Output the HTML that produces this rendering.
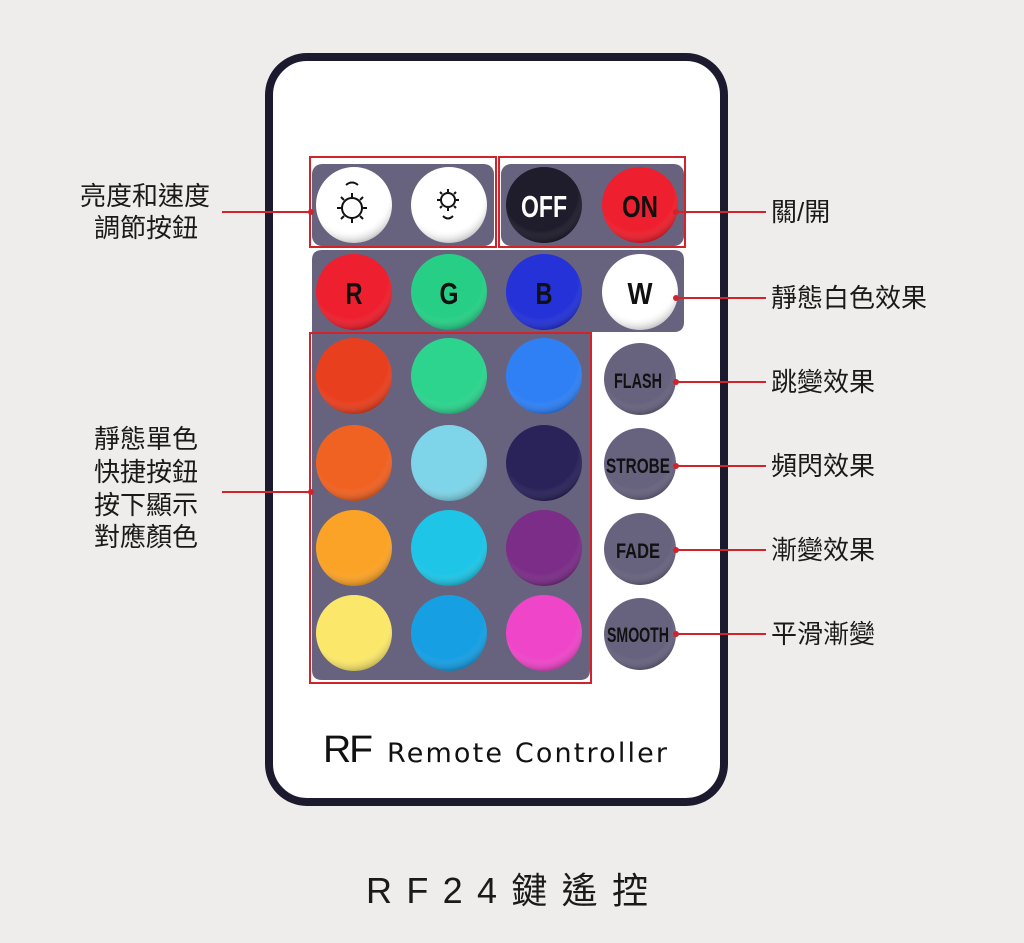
<!DOCTYPE html>
<html><head><meta charset="utf-8"><style>
html,body{margin:0;padding:0;background:#efedeb;}
svg{display:block;}
.cj{font-family:"Liberation Sans","Noto Sans CJK TC",sans-serif;fill:#1a1a1a;}
.bt{font-family:"Liberation Sans",sans-serif;text-anchor:middle;font-weight:bold;}
</style></head><body>
<svg width="1024" height="943" viewBox="0 0 1024 943" xmlns="http://www.w3.org/2000/svg">
<defs>
<radialGradient id="sh" cx="0.45" cy="0.35" r="0.65">
<stop offset="0.75" stop-color="#fff" stop-opacity="0"/>
<stop offset="1" stop-color="#000" stop-opacity="0.22"/>
</radialGradient>
</defs>
<rect width="1024" height="943" fill="#efedeb"/>
<rect x="269" y="57" width="455" height="745" rx="38" fill="#fff" stroke="#1c1a2e" stroke-width="8"/>
<g fill="#67637f">
<rect x="312" y="164" width="182" height="82" rx="10"/>
<rect x="501" y="164" width="183" height="82" rx="10"/>
<path d="M322 250 H674 Q684 250 684 260 V322 Q684 332 674 332 H590 V670 Q590 680 580 680 H322 Q312 680 312 670 V260 Q312 250 322 250 Z"/>
</g>
<g fill="none" stroke="#d2232a" stroke-width="2">
<rect x="310" y="157" width="186" height="90"/>
<rect x="499" y="157" width="186" height="90"/>
<rect x="310" y="333" width="281" height="350"/>
</g>
<g>
<circle cx="354" cy="205" r="38" fill="#fff"/>
<circle cx="449" cy="205" r="38" fill="#fff"/>
<circle cx="544" cy="205" r="38" fill="#1f1c2c"/>
<circle cx="640" cy="205" r="38" fill="#ee1f2e"/>
<circle cx="354" cy="292" r="38" fill="#ee1f2e"/>
<circle cx="449" cy="292" r="38" fill="#27cf86"/>
<circle cx="544" cy="292" r="38" fill="#2432d8"/>
<circle cx="640" cy="292" r="38" fill="#fff"/>
<circle cx="354" cy="376" r="38" fill="#e8401f"/>
<circle cx="449" cy="376" r="38" fill="#2dd48e"/>
<circle cx="544" cy="376" r="38" fill="#2f80f5"/>
<circle cx="354" cy="463" r="38" fill="#f06222"/>
<circle cx="449" cy="463" r="38" fill="#7ed4e8"/>
<circle cx="544" cy="463" r="38" fill="#29235a"/>
<circle cx="354" cy="548" r="38" fill="#fba326"/>
<circle cx="449" cy="548" r="38" fill="#1ec5e6"/>
<circle cx="544" cy="548" r="38" fill="#7b2d87"/>
<circle cx="354" cy="633" r="38" fill="#fbe86a"/>
<circle cx="449" cy="633" r="38" fill="#179fe3"/>
<circle cx="544" cy="633" r="38" fill="#ef46c9"/>
<circle cx="640" cy="379" r="36" fill="#67637f"/>
<circle cx="640" cy="464" r="36" fill="#67637f"/>
<circle cx="640" cy="549" r="36" fill="#67637f"/>
<circle cx="640" cy="634" r="36" fill="#67637f"/>
</g>
<g fill="url(#sh)">
<circle cx="354" cy="205" r="38"/><circle cx="449" cy="205" r="38"/><circle cx="544" cy="205" r="38"/><circle cx="640" cy="205" r="38"/>
<circle cx="354" cy="292" r="38"/><circle cx="449" cy="292" r="38"/><circle cx="544" cy="292" r="38"/><circle cx="640" cy="292" r="38"/>
<circle cx="354" cy="376" r="38"/><circle cx="449" cy="376" r="38"/><circle cx="544" cy="376" r="38"/>
<circle cx="354" cy="463" r="38"/><circle cx="449" cy="463" r="38"/><circle cx="544" cy="463" r="38"/>
<circle cx="354" cy="548" r="38"/><circle cx="449" cy="548" r="38"/><circle cx="544" cy="548" r="38"/>
<circle cx="354" cy="633" r="38"/><circle cx="449" cy="633" r="38"/><circle cx="544" cy="633" r="38"/>
<circle cx="640" cy="379" r="36"/><circle cx="640" cy="464" r="36"/><circle cx="640" cy="549" r="36"/><circle cx="640" cy="634" r="36"/>
</g>
<g stroke="#111" stroke-width="2" fill="none">
<circle cx="352" cy="208" r="10"/>
<path d="M352 193v5M352 218v5M337 208h5M362 208h5M341 197l3 3M363 197l-3 3M341 219l3-3M363 219l-3-3"/>
<path d="M346 185q6-5 12 0"/>
<circle cx="448" cy="200" r="7"/>
<path d="M448 189v3M448 208v3M437 200h3M456 200h3M440 192l2 2M456 192l-2 2M440 208l2-2M456 208l-2-2"/>
<path d="M443 216q5 5 10 0"/>
</g>
<g class="bt" font-size="31">
<text x="544" y="217" fill="#fff" textLength="46" lengthAdjust="spacingAndGlyphs">OFF</text>
<text x="640" y="217" fill="#111" textLength="36" lengthAdjust="spacingAndGlyphs">ON</text>
<text x="354" y="304" fill="#111" textLength="17" lengthAdjust="spacingAndGlyphs">R</text>
<text x="449" y="304" fill="#111" textLength="19" lengthAdjust="spacingAndGlyphs">G</text>
<text x="544" y="304" fill="#111" textLength="17" lengthAdjust="spacingAndGlyphs">B</text>
<text x="640" y="304" fill="#111" textLength="25" lengthAdjust="spacingAndGlyphs">W</text>
</g>
<g class="bt" font-size="21" fill="#111">
<text x="638" y="388" textLength="48" lengthAdjust="spacingAndGlyphs">FLASH</text>
<text x="638" y="473" textLength="64" lengthAdjust="spacingAndGlyphs">STROBE</text>
<text x="638" y="558" textLength="44" lengthAdjust="spacingAndGlyphs">FADE</text>
<text x="638" y="642" textLength="62" lengthAdjust="spacingAndGlyphs">SMOOTH</text>
</g>
<g stroke="#d2232a" stroke-width="2">
<line x1="222" y1="212" x2="311" y2="212"/>
<line x1="222" y1="492" x2="311" y2="492"/>
<line x1="676" y1="212" x2="766" y2="212"/>
<line x1="676" y1="298" x2="766" y2="298"/>
<line x1="676" y1="382" x2="766" y2="382"/>
<line x1="676" y1="466" x2="766" y2="466"/>
<line x1="676" y1="550" x2="766" y2="550"/>
<line x1="676" y1="634" x2="766" y2="634"/>
</g>
<g fill="#d2232a">
<circle cx="311" cy="212" r="3"/><circle cx="311" cy="492" r="3"/>
<circle cx="676" cy="212" r="3"/><circle cx="676" cy="298" r="3"/><circle cx="676" cy="382" r="3"/>
<circle cx="676" cy="466" r="3"/><circle cx="676" cy="550" r="3"/><circle cx="676" cy="634" r="3"/>
</g>
<g class="cj" font-size="26">
<text x="80" y="205">亮度和速度</text>
<text x="94" y="237">調節按鈕</text>
<text x="94" y="448">靜態單色</text>
<text x="94" y="481">快捷按鈕</text>
<text x="94" y="514">按下顯示</text>
<text x="94" y="546">對應顏色</text>
<text x="771" y="221">關/開</text>
<text x="771" y="307">靜態白色效果</text>
<text x="771" y="391">跳變效果</text>
<text x="771" y="475">頻閃效果</text>
<text x="771" y="559">漸變效果</text>
<text x="771" y="643">平滑漸變</text>
</g>
<text x="323" y="762" font-family="Liberation Sans,sans-serif" font-size="38" fill="#111" letter-spacing="-2" textLength="48" lengthAdjust="spacingAndGlyphs">RF</text>
<text x="387" y="762" font-family="DejaVu Sans,sans-serif" font-size="27" fill="#111" textLength="280" lengthAdjust="spacing">Remote  Controller</text>
<text x="366" y="903" class="cj" font-size="36" textLength="282" lengthAdjust="spacing">RF24鍵遙控</text>
</svg>
</body></html>
